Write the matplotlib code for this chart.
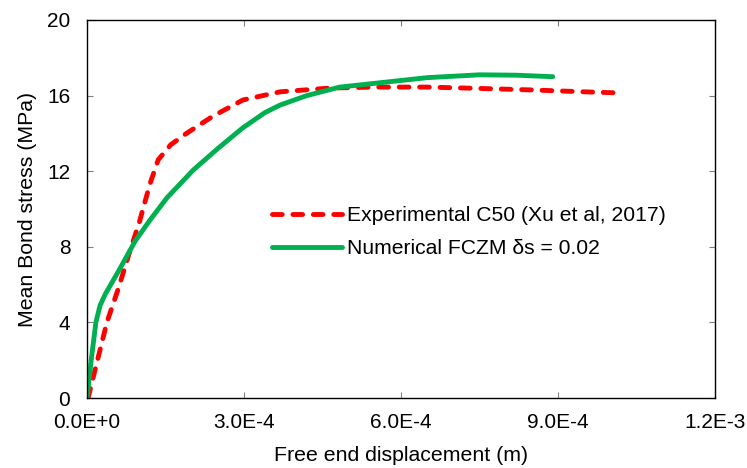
import matplotlib
matplotlib.use("Agg")
import matplotlib.pyplot as plt

plt.rcParams['font.family'] = ['Liberation Sans', 'DejaVu Sans']

# experimental C50 (Xu et al, 2017)
exp_x = [0.02e-4, 0.2e-4, 0.38e-4, 0.6e-4, 0.8e-4, 1.0e-4, 1.2e-4, 1.36e-4, 1.6e-4, 1.9e-4,
         2.4e-4, 2.98e-4, 3.69e-4, 4.64e-4, 5.5e-4, 6.5e-4, 7.5e-4, 8.5e-4, 9.5e-4, 10.2e-4]
exp_y = [0.0, 2.0, 4.0, 5.8, 7.6, 9.3, 11.3, 12.6, 13.4, 14.0,
         14.9, 15.77, 16.2, 16.4, 16.45, 16.45, 16.38, 16.3, 16.2, 16.14]

# numerical FCZM, ds = 0.02
num_x = [0.0, 0.08e-4, 0.17e-4, 0.25e-4, 0.35e-4, 0.6e-4, 0.92e-4, 1.2e-4, 1.53e-4, 2.03e-4,
         2.5e-4, 2.98e-4, 3.4e-4, 3.69e-4, 4.2e-4, 4.83e-4, 5.5e-4, 6.5e-4, 7.5e-4, 8.2e-4, 8.9e-4]
num_y = [0.0, 2.0, 4.0, 4.9, 5.5, 6.7, 8.3, 9.4, 10.6, 12.06,
         13.2, 14.3, 15.1, 15.5, 16.0, 16.45, 16.65, 16.95, 17.1, 17.08, 17.0]

xticks = [0, 3e-4, 6e-4, 9e-4, 1.2e-3]
xlabels = ['0.0E+0', '3.0E-4', '6.0E-4', '9.0E-4', '1.2E-3']
yticks = [0, 4, 8, 12, 16, 20]

fig = plt.figure(figsize=(7.47, 4.68), dpi=100)
ax = fig.add_axes([87/747, 70/468, 628/747, 378/468])

ax.plot(exp_x, exp_y, color='#ff0000', lw=3.5, ls=(0, (2.0, 2.2)),
        dash_capstyle='round', label='Experimental C50 (Xu et al, 2017)')
ax.plot(num_x, num_y, color='#00b050', lw=3.5, solid_capstyle='round',
        label='Numerical FCZM δs = 0.02')

ax.set_xlim(0, 1.2e-3)
ax.set_ylim(0, 20)
ax.set_xticks(xticks)
ax.set_xticklabels(xlabels)
ax.set_yticks(yticks)
ax.tick_params(direction='in', length=4, width=0.8, color='#808080',
               labelsize=15, top=True, right=True)
ax.tick_params(axis='x', pad=11)
ax.tick_params(axis='y', pad=12)
for s in ax.spines.values():
    s.set_linewidth(1.0)

ax.set_xlabel('Free end displacement (m)', fontsize=15.3, labelpad=10)
ax.set_ylabel('Mean Bond stress (MPa)', fontsize=15.3, labelpad=7)

ax.legend(loc='upper left', bbox_to_anchor=(0.265, 0.557), frameon=False,
          fontsize=15.2, handlelength=3.3, handletextpad=0.25, labelspacing=0.65)

fig.savefig('out.png', dpi=100)
